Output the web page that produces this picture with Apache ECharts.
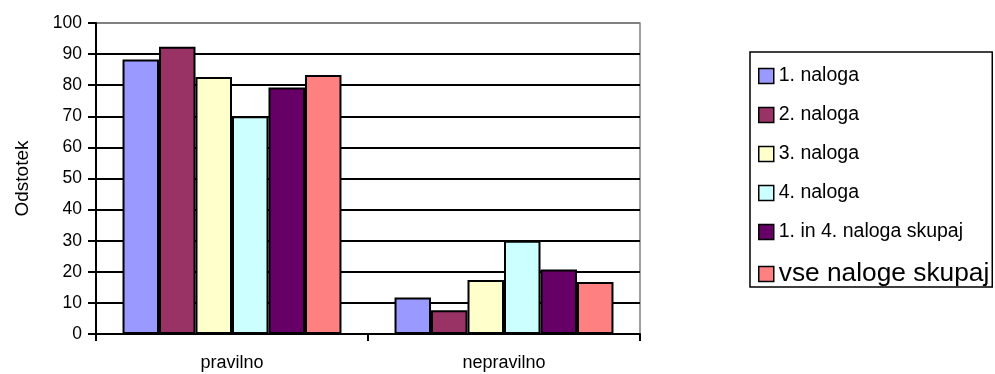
<!DOCTYPE html>
<html>
<head>
<meta charset="utf-8">
<script src="https://cdn.jsdelivr.net/npm/echarts@6/dist/echarts.min.js"></script>
<style>
  html, body { margin: 0; padding: 0; background: #fff; }
  #chart { width: 995px; height: 374px; }
</style>
</head>
<body>
<div id="chart"></div>
<script>
// Answer categories and percentage per task
const categories = ['pravilno', 'nepravilno'];
const seriesNames = ['1. naloga', '2. naloga', '3. naloga', '4. naloga', '1. in 4. naloga skupaj', 'vse naloge skupaj'];
const naloga1 = [88.3, 11.7];
const naloga2 = [92.4, 7.6];
const naloga3 = [82.6, 17.4];
const naloga4 = [70.0, 30.0];
const naloga14 = [79.3, 20.7];
const vseNaloge = [83.3, 16.7];
const yTicks = [0, 10, 20, 30, 40, 50, 60, 70, 80, 90, 100];

const seriesData = [naloga1, naloga2, naloga3, naloga4, naloga14, vseNaloge];
const colors = ['#9999FF', '#993366', '#FFFFCC', '#CCFFFF', '#660066', '#FF8080'];
const FONT = '"Liberation Sans", Arial, sans-serif';

const chart = echarts.init(document.getElementById('chart'), null, { renderer: 'canvas' });

// Grid lines black, top one grey like the frame
const splitColors = yTicks.map((v, i) => i === yTicks.length - 1 ? '#808080' : '#000000');

chart.setOption({
  animation: false,
  backgroundColor: '#ffffff',
  textStyle: { fontFamily: FONT, color: '#000' },
  grid: {
    left: 96, right: 355, top: 23, bottom: 40,
    show: true, borderColor: '#808080', borderWidth: 1.5, backgroundColor: 'transparent'
  },
  legend: {
    orient: 'vertical',
    left: 750, top: 52,
    padding: [14, 3, 0, 8],
    itemGap: 19,
    itemWidth: 15, itemHeight: 15,
    borderColor: '#000', borderWidth: 1.5,
    icon: 'rect',
    itemStyle: { borderColor: '#000', borderWidth: 1.5 },
    textStyle: {
      fontFamily: FONT, fontSize: 19.5, color: '#000',
      rich: { big: { fontFamily: FONT, fontSize: 26.3, lineHeight: 18, color: '#000' } }
    },
    formatter: function (name) {
      return name === 'vse naloge skupaj' ? '{big|' + name + '}' : name;
    },
    data: seriesNames
  },
  xAxis: {
    type: 'category',
    data: categories,
    axisLine: { lineStyle: { color: '#000', width: 2 } },
    axisTick: { show: true, length: 7, lineStyle: { color: '#000', width: 2 } },
    axisLabel: { fontFamily: FONT, fontSize: 18, color: '#000', margin: 20 }
  },
  yAxis: {
    type: 'value',
    min: 0, max: 100, interval: 10,
    name: 'Odstotek',
    nameLocation: 'middle',
    nameGap: 64,
    nameRotate: 90,
    nameTextStyle: { fontFamily: FONT, fontSize: 19, color: '#000' },
    axisLine: { show: true, lineStyle: { color: '#000', width: 2 } },
    axisTick: { show: true, length: 8, lineStyle: { color: '#000', width: 2 } },
    axisLabel: { fontFamily: FONT, fontSize: 17.5, color: '#000', margin: 14 },
    splitLine: { show: true, lineStyle: { color: splitColors, width: 2 } }
  },
  series: seriesNames.map((name, i) => ({
    name: name,
    type: 'bar',
    data: seriesData[i],
    barGap: '0%',
    barCategoryGap: '19.5%',
    itemStyle: { color: colors[i], borderColor: '#000', borderWidth: 2 }
  }))
});
</script>
</body>
</html>
